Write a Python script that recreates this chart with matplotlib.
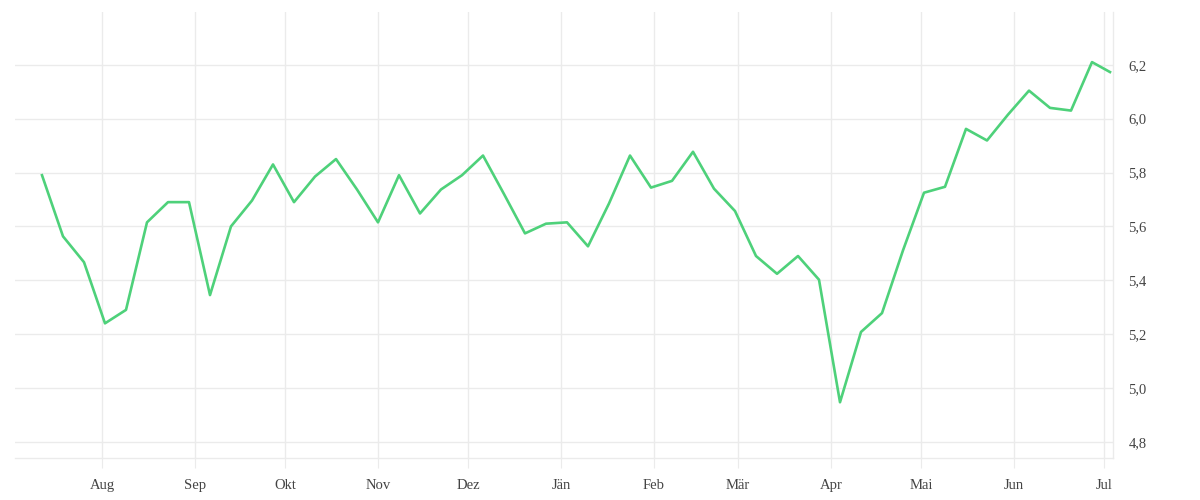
import matplotlib
matplotlib.use('Agg')
import matplotlib.pyplot as plt
import matplotlib.dates as mdates
from matplotlib.ticker import FuncFormatter
import pandas as pd

# weekly values, mid July to early July
values = [5.79, 5.563, 5.467, 5.24, 5.29, 5.615, 5.69, 5.69, 5.345, 5.60,
          5.696, 5.83, 5.69, 5.785, 5.85, 5.737, 5.615, 5.79, 5.648, 5.737,
          5.79, 5.863, 5.72, 5.574, 5.61, 5.615, 5.526, 5.685, 5.863, 5.744,
          5.769, 5.877, 5.74, 5.657, 5.49, 5.424, 5.49, 5.402, 4.947, 5.208,
          5.278, 5.511, 5.725, 5.747, 5.962, 5.919, 6.015, 6.104, 6.04, 6.03,
          6.21, 6.173]
dates = list(pd.date_range('2022-07-12', periods=len(values) - 1, freq='7D'))
dates.append(pd.Timestamp('2023-07-03'))

month_names = ['Jän', 'Feb', 'Mär', 'Apr', 'Mai', 'Jun',
               'Jul', 'Aug', 'Sep', 'Okt', 'Nov', 'Dez']
yticks = [4.8, 5.0, 5.2, 5.4, 5.6, 5.8, 6.0, 6.2]

grid_c = '#ebebeb'
text_c = '#444444'
font = 'Liberation Serif'

fig = plt.figure(figsize=(12, 5), dpi=100)
ax = fig.add_axes([0.0125, 0.084, 0.915, 0.892])

ax.plot(dates, values, color='#4ed17a', lw=1.9, zorder=3)

ax.set_xlim(pd.Timestamp('2022-07-03'), pd.Timestamp('2023-07-04'))
ax.set_ylim(4.74, 6.396)

ax.xaxis.set_major_locator(mdates.MonthLocator())
ax.xaxis.set_major_formatter(FuncFormatter(
    lambda x, pos: month_names[mdates.num2date(x).month - 1]))
ax.set_yticks(yticks)
ax.yaxis.set_major_formatter(FuncFormatter(
    lambda v, pos: ('%.1f' % v).replace('.', ',')))
ax.yaxis.tick_right()

ax.grid(True, color=grid_c, lw=1)
ax.set_axisbelow(True)
for side in ['top', 'left']:
    ax.spines[side].set_visible(False)
for side in ['bottom', 'right']:
    ax.spines[side].set_color(grid_c)
    ax.spines[side].set_linewidth(1)

ax.tick_params(axis='x', length=7, color=grid_c, pad=8,
               labelsize=10.5, labelcolor=text_c)
ax.tick_params(axis='y', length=0, pad=11, labelsize=10.5, labelcolor=text_c)
for lab in ax.get_xticklabels() + ax.get_yticklabels():
    lab.set_fontfamily(font)

fig.savefig('out.png', dpi=100, facecolor='white')
